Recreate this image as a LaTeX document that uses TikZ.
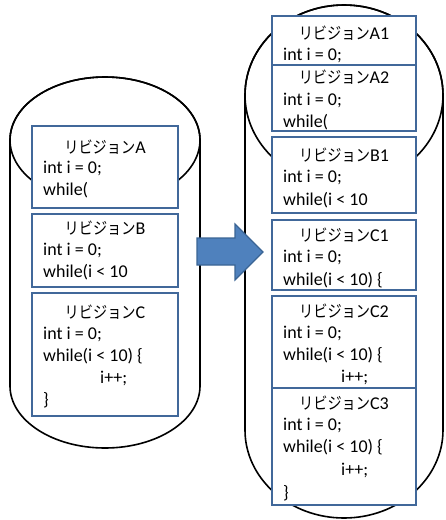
\documentclass[tikz,border=0pt]{standalone}
\usepackage{fontspec}
\usepackage{graphicx}
\setmainfont{Carlito}
\newfontfamily\jpfont{Noto Sans CJK JP}
\newcommand{\rvj}{\scalebox{0.86}[1]{\jpfont\fontsize{16.5}{17}\selectfont リビジョン}}
\begin{document}
\begin{tikzpicture}[x=1pt,y=-1pt,
  cyl/.style={draw=black,line width=1.6pt,fill=white},
  rev/.style={draw=boxblue,line width=1.4pt,fill=white},
  ttl/.style={anchor=center,inner sep=0pt,font=\fontsize{18}{20}\selectfont},
  code/.style={anchor=west,inner sep=0pt,font=\fontsize{18}{20}\selectfont},
  bigarrow/.style={draw=arrowedge,line width=1.2pt,fill=arrowblue}]
\definecolor{boxblue}{HTML}{41689A}
\definecolor{arrowblue}{HTML}{4F81BD}
\definecolor{arrowedge}{HTML}{3A6494}
\useasboundingbox (0,0) rectangle (446,520);
% left cylinder
\path[cyl] (10,140) -- (10,386) arc[start angle=180,end angle=0,x radius=95,y radius=62] -- (200,140) arc[start angle=0,end angle=-180,x radius=95,y radius=63] -- cycle;
\draw[line width=1.6pt] (105,140) ellipse[x radius=95,y radius=63];
% right cylinder
\path[cyl] (245,95) -- (245,430) arc[start angle=180,end angle=0,x radius=99,y radius=88] -- (443,95) arc[start angle=0,end angle=-180,x radius=99,y radius=90] -- cycle;
\draw[line width=1.6pt] (344,95) ellipse[x radius=99,y radius=90];
% arrow
\draw[bigarrow] (197,238) -- (235,238) -- (235,224) -- (263,252) -- (235,280) -- (235,265) -- (197,265) -- cycle;
% left boxes
\draw[rev] (32,126) rectangle (178,208);
\node[ttl] (tA) at (105,147) {\rvj A};
\node[code] (a1) at (43,168) {int i = 0;};
\node[code] (a2) at (43,190) {while(};
\draw[rev] (32,214) rectangle (178,287);
\node[ttl] (tB) at (105,228) {\rvj B};
\node[code] (b1) at (43,250) {int i = 0;};
\node[code] (b2) at (43,272) {while(i < 10};
\draw[rev] (32,293) rectangle (178,416);
\node[ttl] (tC) at (105,312) {\rvj C};
\node[code] (c1) at (43,334) {int i = 0;};
\node[code] (c2) at (43,356) {while(i < 10) \{};
\node[code] (c3) at (100,378) {i++;};
\node[code] (c4) at (43,400) {\}};
% right boxes
\draw[rev] (272,16) rectangle (416,65);
\node[ttl] (tA1) at (344,33) {\rvj A1};
\node[code] (r11) at (283,55) {int i = 0;};
\draw[rev] (272,65) rectangle (416,131);
\node[ttl] (tA2) at (344,77) {\rvj A2};
\node[code] (r21) at (283,100) {int i = 0;};
\node[code] (r22) at (283,122) {while(};
\draw[rev] (272,137) rectangle (416,213);
\node[ttl] (tB1) at (344,155) {\rvj B1};
\node[code] (r31) at (283,177) {int i = 0;};
\node[code] (r32) at (283,200) {while(i < 10};
\draw[rev] (272,220) rectangle (416,290);
\node[ttl] (tC1) at (344,235) {\rvj C1};
\node[code] (r41) at (283,257) {int i = 0;};
\node[code] (r42) at (283,280) {while(i < 10) \{};
\draw[rev] (272,296) rectangle (416,388);
\node[ttl] (tC2) at (344,311) {\rvj C2};
\node[code] (r51) at (283,333) {int i = 0;};
\node[code] (r52) at (283,355) {while(i < 10) \{};
\node[code] (r53) at (341,377) {i++;};
\draw[rev] (272,388) rectangle (416,505);
\node[ttl] (tC3) at (344,403) {\rvj C3};
\node[code] (r61) at (283,425) {int i = 0;};
\node[code] (r62) at (283,447) {while(i < 10) \{};
\node[code] (r63) at (341,470) {i++;};
\node[code] (r64) at (283,493) {\}};
\end{tikzpicture}
\end{document}
